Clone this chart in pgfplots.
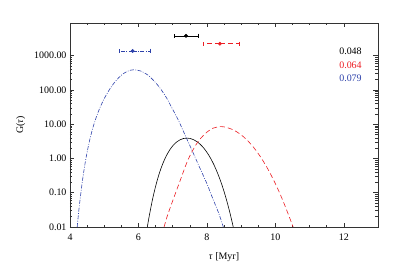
\documentclass[border=0pt]{standalone}
\usepackage{fontspec}
\setmainfont{Liberation Serif}
\usepackage{pgfplots}
\pgfplotsset{compat=1.18}
\definecolor{cred}{RGB}{236,30,36}
\definecolor{cblue}{RGB}{45,65,170}
\begin{document}
\begin{tikzpicture}
\useasboundingbox (-70bp,-46bp) rectangle (329bp,227bp);
\begin{axis}[
  at={(0,0)}, anchor=south west,
  scale only axis, width=308bp, height=204bp,
  xmin=4, xmax=13, ymode=log, ymin=0.01, ymax=9000,
  xtick={4,6,8,10,12}, minor x tick num=3,
  ytick={0.01,0.1,1,10,100,1000},
  yticklabels={0.01,0.10,1.00,10.00,100.00,1000.00},
  tick align=inside,
  major tick length=4.5bp, minor tick length=2.5bp,
  axis line style={line width=0.9pt, black!80},
  every tick/.style={black!80, line width=0.5pt},
  /pgf/number format/assume math mode=true,
  ticklabel style={font=\fontsize{10}{12}\selectfont},
  xticklabel style={yshift=-3bp},
  xlabel={\textit{τ} [Myr]}, ylabel={G(\textit{τ})},
  label style={font=\fontsize{10}{12}\selectfont},
  xlabel style={at={(axis description cs:0.5,-0.147)}, anchor=center},
  ylabel style={at={(axis description cs:-0.16,0.5)}, anchor=center},
  clip=true,
]
% blue
\addplot[cblue, line width=0.6pt, smooth, dash pattern=on 4pt off 1.5pt on 0.8pt off 1.5pt] coordinates {
(4.21,0.01)(4.27,0.0392)(4.37,0.251)(4.47,1.06)(4.57,3.25)(4.67,7.94)(4.77,16.3)(4.87,29.5)(4.97,48.8)(5.07,75.0)(5.17,109)(5.27,151)(5.37,200)(5.47,253)(5.57,304.5)(5.67,348)(5.77,378)(5.87,389)
(6.07,356)(6.27,275)(6.43,195)(6.62,117.5)(6.82,58.9)(6.97,30.9)(7.16,13.5)(7.36,4.90)(7.60,1.445)(7.80,0.513)(7.99,0.195)(8.18,0.0646)(8.32,0.0295)(8.42,0.0155)(8.48,0.01)
};
% black
\addplot[black, line width=0.6pt, smooth] coordinates {
(6.26,0.01)(6.31,0.0195)(6.41,0.0631)(6.51,0.166)(6.61,0.368)(6.71,0.700)(6.81,1.170)(6.91,1.752)(7.01,2.385)(7.11,2.99)(7.21,3.49)(7.31,3.82)(7.41,3.94)
(7.51,3.84)(7.61,3.54)(7.71,3.10)(7.81,2.565)(7.91,2.003)(8.01,1.469)(8.11,1.007)(8.21,0.643)(8.31,0.379)(8.41,0.206)(8.51,0.102)(8.61,0.0456)(8.71,0.0183)(8.77,0.01)
};
% red
\addplot[cred, line width=0.6pt, smooth, dash pattern=on 5pt off 3pt] coordinates {
(6.75,0.01)(6.83,0.0191)(6.97,0.0479)(7.21,0.214)(7.41,0.741)(7.55,1.479)(7.70,2.69)(7.83,3.98)(7.99,5.75)(8.18,7.67)(8.40,8.51)
(8.58,8.04)(8.78,6.77)(8.98,5.08)(9.18,3.40)(9.38,2.02)(9.58,1.064)(9.78,0.496)(9.98,0.204)(10.18,0.0739)(10.38,0.0234)(10.52,0.01)
};
% error bars
\addplot[black, line width=0.6pt, mark=*, mark size=1.6pt, only marks,
  error bars/.cd, x dir=both, x explicit, error mark options={rotate=90, mark size=2.2pt, black}]
  coordinates {(7.39,3800) += (0.35,0) -= (0.35,0)};
\addplot[cred, line width=0.6pt, mark=*, mark size=1.6pt, only marks,
  error bars/.cd, x dir=both, x explicit, error bar style={dash pattern=on 5pt off 3pt}, error mark options={rotate=90, mark size=2.2pt, cred, solid}]
  coordinates {(8.38,2240) += (0.56,0) -= (0.49,0)};
\addplot[cblue, line width=0.6pt, mark=*, mark size=1.6pt, only marks,
  error bars/.cd, x dir=both, x explicit, error bar style={dash pattern=on 4pt off 1.5pt on 0.8pt off 1.5pt}, error mark options={rotate=90, mark size=2.2pt, cblue, solid}]
  coordinates {(5.83,1380) += (0.51,0) -= (0.39,0)};
\node[anchor=east, font=\fontsize{10}{12}\selectfont, inner sep=0pt] at (axis cs:12.53,1320) {0.048};
\node[anchor=east, font=\fontsize{10}{12}\selectfont, inner sep=0pt, text=cred] at (axis cs:12.53,537) {0.064};
\node[anchor=east, font=\fontsize{10}{12}\selectfont, inner sep=0pt, text=cblue] at (axis cs:12.53,219) {0.079};
\end{axis}
\end{tikzpicture}
\end{document}
